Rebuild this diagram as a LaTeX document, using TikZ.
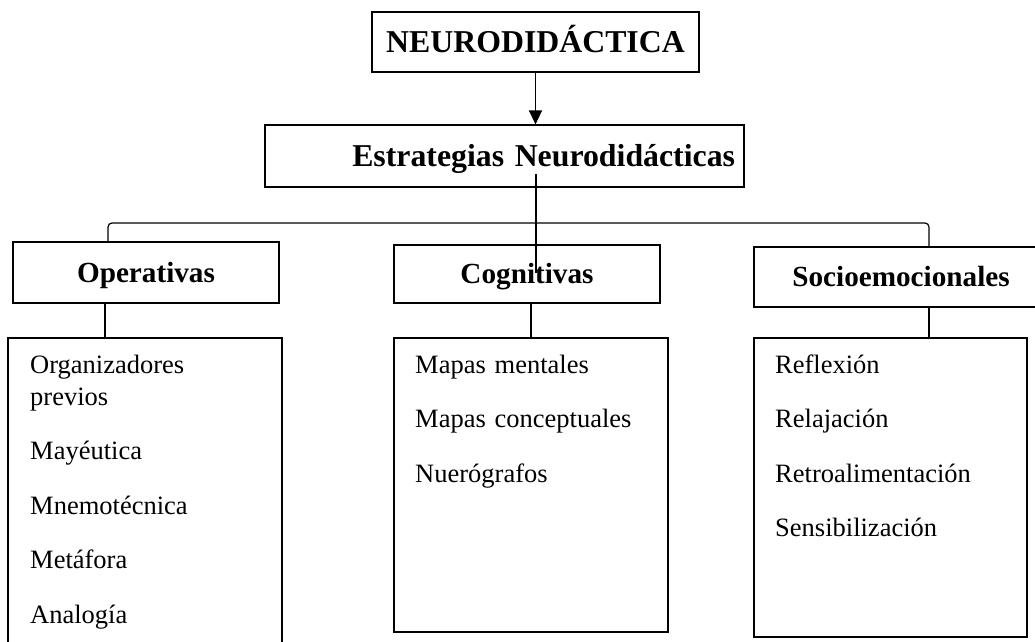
\documentclass[tikz,border=0pt]{standalone}
\usepackage{fontspec}
\setmainfont{Liberation Serif}
\usetikzlibrary{arrows.meta}

\begin{document}
\begin{tikzpicture}
  [x=1pt, y=-1pt,
  line/.style={draw, line width=1.2pt},
  arrowline/.style={draw, line width=1.4pt, -{Triangle[length=14pt, width=13pt]}},
  block/.style={rectangle, draw, line width=1.2pt, inner sep=0pt},
  head/.style={block, font=\fontsize{31.8}{38}\selectfont\bfseries, text height=21pt, text depth=0pt},
  sub/.style={block, font=\fontsize{29.2}{35}\selectfont\bfseries, text height=19.3pt, text depth=0pt},
  listbox/.style={block},
  items/.style={anchor=north west, inner sep=0pt, text width=240pt, align=left, font=\fontsize{26.5}{32}\selectfont}]
  \clip (0,0) rectangle (1035,641);

  % nodes
  \node [head, minimum width=327pt, minimum height=60pt] (neuro) at (535.5,42) {NEURODIDÁCTICA};
  \node [head, minimum width=479pt, minimum height=62pt, text width=461pt, inner xsep=9pt, align=right] (estr) at (504.5,156) {Estrategias Neurodidácticas};
  \node [sub, minimum width=266pt, minimum height=61pt] (oper) at (146,272.5) {Operativas};
  \node [sub, minimum width=266pt, minimum height=58pt] (cogn) at (527,274) {Cognitivas};
  \node [sub, minimum width=294pt, minimum height=60pt] (socio) at (901,277) {Socioemocionales};

  \node [listbox, minimum width=274pt, minimum height=322pt] (oplist) at (145,499) {};
  \node [listbox, minimum width=274pt, minimum height=294pt] (coglist) at (531,485) {};
  \node [listbox, minimum width=273pt, minimum height=299pt] (soclist) at (890.5,487.5) {};

  \node [items] (opitems) at (30,350.6) {\strut Organizadores\\previos\\[22.5pt]Mayéutica\\[22.5pt]Mnemotécnica\\[22.5pt]Metáfora\\[22.5pt]Analogía};
  \node [items] (cogitems) at (415,350.6) {\strut Mapas mentales\\[22.5pt]Mapas conceptuales\\[22.5pt]Nuerógrafos};
  \node [items] (socitems) at (775,350.6) {\strut Reflexión\\[22.5pt]Relajación\\[22.5pt]Retroalimentación\\[22.5pt]Sensibilización};

  \coordinate (stem top) at (536,174);
  \coordinate (stem end) at (536,273);
  \coordinate (fork left) at (108,223);
  \coordinate (fork right) at (929,223);

  % edges
  \path [arrowline] (neuro.south) -- (neuro.south |- estr.north);
  \path [line] (stem top) -- (stem end);
  \path [line, rounded corners=4pt] (oper.north -| fork left) -- (fork left) -- (fork right) -- (socio.north -| fork right);
  \path [line] ([xshift=-41pt]oper.south) -- ([xshift=-41pt]oper.south |- oplist.north);
  \path [line] ([xshift=4pt]cogn.south) -- ([xshift=4pt]cogn.south |- coglist.north);
  \path [line] ([xshift=28pt]socio.south) -- ([xshift=28pt]socio.south |- soclist.north);

\end{tikzpicture}
\end{document}
